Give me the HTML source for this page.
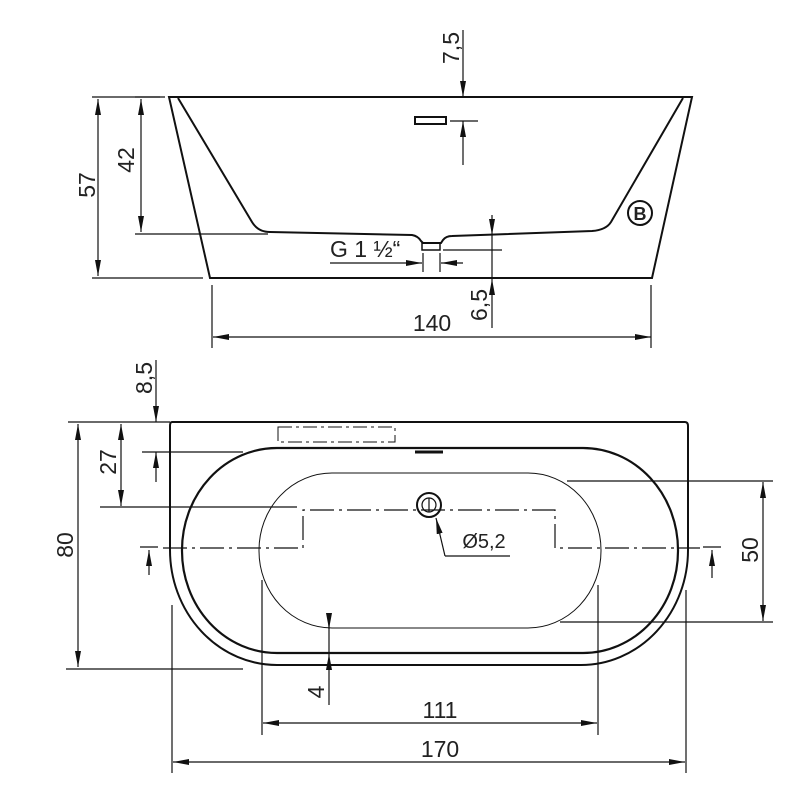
<!DOCTYPE html>
<html><head><meta charset="utf-8"><style>
html,body{margin:0;padding:0;background:#fff;}
svg{display:block;}
text{font-family:"Liberation Sans",sans-serif;fill:#222;}
</style></head><body>
<svg width="800" height="800" viewBox="0 0 800 800" xmlns="http://www.w3.org/2000/svg">
<defs>
<marker id="a" viewBox="0 0 16 6" refX="16" refY="3" markerWidth="16" markerHeight="6" orient="auto" markerUnits="userSpaceOnUse">
<path d="M0,0 L16,3 L0,6 Z" fill="#111"/></marker>
</defs>
<g fill="none" stroke="#111" stroke-width="1.2">
<!-- TOP VIEW -->
<path d="M169,97 L692,97 L652,278 L210,278 Z" stroke-width="2"/>
<path d="M178,98 L252,222 Q258,232 270,232 L412,235 Q418,236 421,241 L423,243 L441,243 L443,240 Q446,236 452,236 L592,231 Q606,230 611,222 L683,98" stroke-width="2"/>
<rect x="422" y="243" width="18" height="7" stroke-width="1.5"/>
<rect x="415" y="117" width="31" height="7" stroke-width="2"/>
<circle cx="640" cy="213" r="12" stroke-width="2"/>
<!-- 7,5 -->
<line x1="463" y1="30" x2="463" y2="97" marker-end="url(#a)"/>
<line x1="463" y1="165" x2="463" y2="121" marker-end="url(#a)"/>
<line x1="450" y1="121" x2="478" y2="121"/>
<!-- 42 -->
<line x1="141" y1="165" x2="141" y2="99" marker-end="url(#a)"/>
<line x1="141" y1="165" x2="141" y2="232" marker-end="url(#a)"/>
<line x1="135" y1="97" x2="165" y2="97"/>
<line x1="135" y1="234" x2="268" y2="234"/>
<!-- 57 -->
<line x1="98" y1="185" x2="98" y2="99" marker-end="url(#a)"/>
<line x1="98" y1="185" x2="98" y2="276" marker-end="url(#a)"/>
<line x1="92" y1="97" x2="160" y2="97"/>
<line x1="92" y1="278" x2="203" y2="278"/>
<!-- 6,5 -->
<line x1="492" y1="215" x2="492" y2="235" marker-end="url(#a)"/>
<line x1="492" y1="328" x2="492" y2="279" marker-end="url(#a)"/>
<line x1="492" y1="235" x2="492" y2="279"/>
<line x1="443" y1="250" x2="502" y2="250"/>
<!-- G -->
<line x1="330" y1="263" x2="422" y2="263" marker-end="url(#a)"/>
<line x1="463" y1="263" x2="441" y2="263" marker-end="url(#a)"/>
<line x1="423" y1="253" x2="423" y2="272"/>
<line x1="440" y1="253" x2="440" y2="272"/>
<!-- 140 -->
<line x1="430" y1="337" x2="213" y2="337" marker-end="url(#a)"/>
<line x1="430" y1="337" x2="651" y2="337" marker-end="url(#a)"/>
<line x1="212" y1="285" x2="212" y2="348"/>
<line x1="651" y1="285" x2="651" y2="348"/>

<!-- BOTTOM VIEW -->
<path d="M172,422 L685,422 Q688,422 688,426 L688,550 A107,115 0 0 1 581,665 L277,665 A107,115 0 0 1 170,550 L170,426 Q170,422 172,422 Z" stroke-width="2"/>
<rect x="182" y="448" width="496" height="205" rx="95" ry="102" stroke-width="2.2"/>
<rect x="259" y="473" width="342" height="155" rx="73" ry="77" stroke-width="1"/>
<rect x="278" y="427" width="117" height="15" stroke-dasharray="14,4,3,4" stroke-width="1"/>
<line x1="415" y1="452" x2="443" y2="452" stroke-width="3"/>
<circle cx="429" cy="505" r="12" stroke-width="2"/>
<circle cx="429" cy="505" r="7" stroke-width="1.2"/>
<line x1="429" y1="498" x2="429" y2="512"/>
<path d="M163,548 L303,548 L303,510 L555,510 L555,548 L700,548" stroke-dasharray="24,5,3,5" stroke-width="1.2"/>
<line x1="140" y1="547" x2="158" y2="547"/>
<line x1="149" y1="575" x2="149" y2="550" marker-end="url(#a)"/>
<line x1="703" y1="547" x2="721" y2="547"/>
<line x1="712" y1="578" x2="712" y2="550" marker-end="url(#a)"/>
<path d="M445,556 L510,556"/>
<line x1="445" y1="556" x2="436" y2="518" marker-end="url(#a)"/>
<!-- 8,5 -->
<line x1="156" y1="360" x2="156" y2="422" marker-end="url(#a)"/>
<line x1="156" y1="482" x2="156" y2="452" marker-end="url(#a)"/>
<line x1="142" y1="452" x2="243" y2="452"/>
<!-- 27 -->
<line x1="121" y1="465" x2="121" y2="424" marker-end="url(#a)"/>
<line x1="121" y1="465" x2="121" y2="506" marker-end="url(#a)"/>
<line x1="100" y1="507" x2="297" y2="507"/>
<!-- 80 -->
<line x1="78" y1="545" x2="78" y2="424" marker-end="url(#a)"/>
<line x1="78" y1="545" x2="78" y2="667" marker-end="url(#a)"/>
<line x1="68" y1="422" x2="170" y2="422"/>
<line x1="66" y1="669" x2="243" y2="669"/>
<!-- 50 -->
<line x1="763" y1="550" x2="763" y2="482" marker-end="url(#a)"/>
<line x1="763" y1="550" x2="763" y2="621" marker-end="url(#a)"/>
<line x1="567" y1="481" x2="773" y2="481"/>
<line x1="560" y1="622" x2="773" y2="622"/>
<!-- 4 -->
<line x1="329" y1="622" x2="329" y2="629" marker-end="url(#a)"/>
<line x1="329" y1="705" x2="329" y2="654" marker-end="url(#a)"/>
<line x1="329" y1="622" x2="329" y2="654"/>
<!-- 111 -->
<line x1="430" y1="723" x2="263" y2="723" marker-end="url(#a)"/>
<line x1="430" y1="723" x2="597" y2="723" marker-end="url(#a)"/>
<line x1="262" y1="580" x2="262" y2="735"/>
<line x1="598" y1="585" x2="598" y2="735"/>
<!-- 170 -->
<line x1="430" y1="762" x2="173" y2="762" marker-end="url(#a)"/>
<line x1="430" y1="762" x2="685" y2="762" marker-end="url(#a)"/>
<line x1="172" y1="605" x2="172" y2="773"/>
<line x1="686" y1="590" x2="686" y2="773"/>
</g>
<g font-size="23">
<text x="640" y="220" font-size="18" text-anchor="middle" font-weight="bold">B</text>
<text transform="translate(459,48) rotate(-90)" text-anchor="middle">7,5</text>
<text transform="translate(134,160) rotate(-90)" text-anchor="middle">42</text>
<text transform="translate(95,185) rotate(-90)" text-anchor="middle">57</text>
<text transform="translate(487,305) rotate(-90)" text-anchor="middle">6,5</text>
<text x="330" y="257">G 1 ½“</text>
<text x="432" y="331" text-anchor="middle">140</text>
<text transform="translate(152,378) rotate(-90)" text-anchor="middle">8,5</text>
<text transform="translate(116,462) rotate(-90)" text-anchor="middle">27</text>
<text transform="translate(73,545) rotate(-90)" text-anchor="middle">80</text>
<text transform="translate(758,550) rotate(-90)" text-anchor="middle">50</text>
<text transform="translate(324,692) rotate(-90)" text-anchor="middle">4</text>
<text x="484" y="548" font-size="20" text-anchor="middle">Ø5,2</text>
<text x="440" y="718" text-anchor="middle">111</text>
<text x="440" y="757" text-anchor="middle">170</text>
</g>
</svg>
</body></html>
